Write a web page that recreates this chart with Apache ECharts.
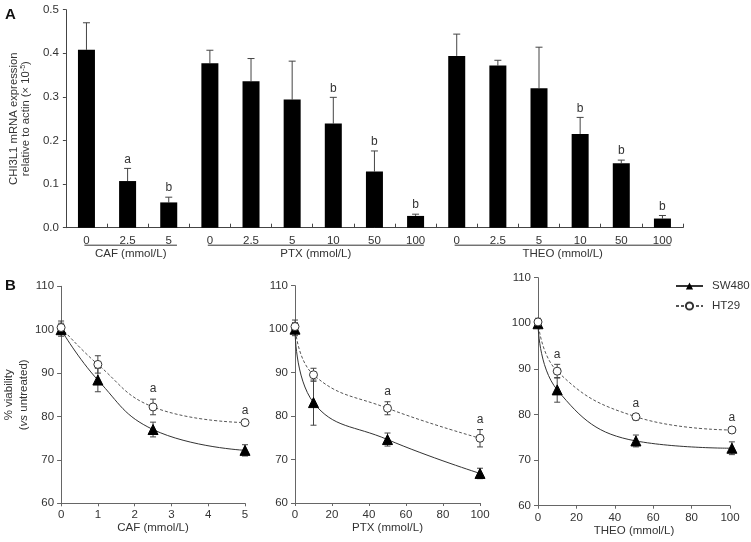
<!DOCTYPE html>
<html><head><meta charset="utf-8">
<script src="https://cdn.jsdelivr.net/npm/echarts@6/dist/echarts.min.js"></script>
<style>html,body{margin:0;padding:0;background:#fff}#c{width:751px;height:542px}</style>
</head><body><div id="c"></div>
<script>
// ---- Panel A data ----
const barCats = ['0','2.5','5','0','2.5','5','10','50','100','0','2.5','5','10','50','100'];
const barValues = [0.408,0.107,0.058,0.377,0.336,0.294,0.239,0.129,0.027,0.394,0.372,0.320,0.215,0.148,0.021];
const barErrors = [0.062,0.029,0.012,0.030,0.052,0.088,0.060,0.047,0.004,0.050,0.012,0.094,0.038,0.007,0.007];
const barSig = ['','a','b','','','','b','b','b','','','','b','b','b'];
const groupNames = ['CAF (mmol/L)','PTX (mmol/L)','THEO (mmol/L)'];
const groupStart = [0,3,9];
const groupEnd = [2,8,14];

// ---- Panel B data ----
const cafDose = [0,1,2.5,5];
const cafSW = [100,88.4,77.0,72.2];
const cafSWErr = [1.5,2.7,1.7,1.3];
const cafHT = [100.5,92.0,82.2,78.6];
const cafHTErr = [1.5,2.0,1.8,0.5];
const cafSig = ['','','a','a'];

const ptxDose = [0,10,50,100];
const ptxSW = [100,83.1,74.6,66.8];
const ptxSWErr = [1.5,5.2,1.5,1.2];
const ptxHT = [100.6,89.5,81.8,74.9];
const ptxHTErr = [1.5,1.5,1.5,2.0];
const ptxSig = ['','','a','a'];

const theoDose = [0,10,51,101];
const theoSW = [99.9,85.4,74.2,72.6];
const theoSWErr = [0.8,2.7,1.3,1.4];
const theoHT = [100.3,89.5,79.5,76.6];
const theoHTErr = [0.8,1.5,0.7,0.6];
const theoSig = ['','a','a','a'];

const FONT = 'Liberation Sans';
const FS = 11;
const TXT = '#333';
const AX = '#666';

const chart = echarts.init(document.getElementById('c'), null, {renderer:'canvas'});

function zip(xs, ys){ return xs.map((x,i)=>[x, ys[i]]); }
function errData(xs, ys, es, sig){ return xs.map((x,i)=>[x, ys[i], es[i], sig ? sig[i] : '']); }

function errorRender(twoSided, capW, labelGap){
  return function(params, api){
    const x = api.value(0), y = api.value(1), e = api.value(2);
    const sig = api.value(3);
    const top = api.coord([x, y + e]);
    const bot = twoSided ? api.coord([x, y - e]) : api.coord([x, y]);
    const ch = [
      {type:'line', shape:{x1:top[0], y1:top[1], x2:bot[0], y2:bot[1]}, style:{stroke:'#444', lineWidth:1}},
      {type:'line', shape:{x1:top[0]-capW, y1:top[1], x2:top[0]+capW, y2:top[1]}, style:{stroke:'#444', lineWidth:1}}
    ];
    if (twoSided) ch.push({type:'line', shape:{x1:bot[0]-capW, y1:bot[1], x2:bot[0]+capW, y2:bot[1]}, style:{stroke:'#444', lineWidth:1}});
    if (sig && sig !== '') ch.push({type:'text', style:{text:sig, x:top[0], y:top[1]-labelGap, align:'center', verticalAlign:'middle', font:'12px "'+FONT+'"', fill:TXT}});
    return {type:'group', children:ch};
  };
}

const groupData = groupNames.map((n,i)=>[groupStart[i], 0, groupEnd[i], n]);

function bottomX(idx, min, max, interval, name){
  return {type:'value', gridIndex:idx, min:min, max:max, interval:interval,
    name:name, nameLocation:'middle', nameGap:19,
    nameTextStyle:{fontFamily:FONT, fontSize:FS+0.5, color:TXT},
    axisLine:{show:true, onZero:false, lineStyle:{color:AX}},
    axisTick:{show:true, length:3, lineStyle:{color:AX}},
    axisLabel:{fontFamily:FONT, fontSize:FS+0.5, color:TXT, margin:6},
    splitLine:{show:false}};
}
function bottomY(idx, withName){
  const o = {type:'value', gridIndex:idx, min:60, max:110, interval:10,
    axisLine:{show:true, onZero:false, lineStyle:{color:AX}},
    axisTick:{show:true, length:4, lineStyle:{color:AX}},
    axisLabel:{fontFamily:FONT, fontSize:FS+0.5, color:TXT, margin:7},
    splitLine:{show:false}};
  if (withName){
    o.name = '% viability\n({i|vs} untreated)';
    o.nameLocation = 'middle';
    o.nameGap = 27;
    o.nameTextStyle = {fontFamily:FONT, fontSize:FS+0.5, color:TXT, lineHeight:15,
      rich:{i:{fontFamily:FONT, fontSize:FS+0.5, color:TXT, fontStyle:'italic'}}};
  }
  return o;
}

function panelSeries(idx, dose, sw, swE, ht, htE, sig){
  return [
    {type:'custom', xAxisIndex:idx, yAxisIndex:idx, renderItem:errorRender(true,3,10), data:errData(dose, sw, swE, null), z:2, silent:true},
    {type:'custom', xAxisIndex:idx, yAxisIndex:idx, renderItem:errorRender(true,3,10), data:errData(dose, ht, htE, sig), z:2, silent:true},
    {name:'SW480', type:'line', xAxisIndex:idx, yAxisIndex:idx, data:zip(dose, sw), smooth:0.45,
      symbol:'triangle', symbolSize:10, clip:false, z:3,
      lineStyle:{color:'#333', width:1}, itemStyle:{color:'#000', borderColor:'#000'}},
    {name:'HT29', type:'line', xAxisIndex:idx, yAxisIndex:idx, data:zip(dose, ht), smooth:0.45,
      symbol:'circle', symbolSize:8, clip:false, z:3,
      lineStyle:{color:'#555', width:1, type:[3,2]}, itemStyle:{color:'#fff', borderColor:'#333', borderWidth:1}}
  ];
}

const option = {
  animation:false,
  backgroundColor:'#fff',
  textStyle:{fontFamily:FONT},
  grid:[
    {left:62, top:9.7, width:621, height:218},
    {left:57, top:286.3, width:188, height:217},
    {left:295, top:285.7, width:185, height:217.3},
    {left:538, top:277.7, width:192, height:228}
  ],
  legend:{
    data:['SW480','HT29'], orient:'vertical', left:675, top:280, padding:0,
    itemWidth:27, itemHeight:9, itemGap:8,
    textStyle:{fontFamily:FONT, fontSize:FS+0.5, color:TXT, padding:[0,0,0,4]}
  },
  graphic:[
    {type:'text', left:5, top:7, style:{text:'A', font:'bold 15px "'+FONT+'"', fill:'#111'}},
    {type:'text', left:5, top:278, style:{text:'B', font:'bold 15px "'+FONT+'"', fill:'#111'}}
  ],
  xAxis:[
    {type:'category', gridIndex:0, data:barCats,
      axisLine:{show:true, lineStyle:{color:'#444'}},
      axisTick:{show:true, inside:true, length:4, alignWithLabel:false, lineStyle:{color:'#444'}},
      axisLabel:{fontFamily:FONT, fontSize:FS+0.5, color:TXT, margin:7, interval:0}},
    bottomX(1, 0, 5, 1, 'CAF (mmol/L)'),
    bottomX(2, 0, 100, 20, 'PTX (mmol/L)'),
    bottomX(3, 0, 100, 20, 'THEO (mmol/L)')
  ],
  yAxis:[
    {type:'value', gridIndex:0, min:0, max:0.5, interval:0.1,
      name:'CHI3L1 mRNA expression\nrelative to actin (× 10{s|-5})',
      nameLocation:'middle', nameGap:32,
      nameTextStyle:{fontFamily:FONT, fontSize:FS+0.3, color:TXT, lineHeight:12,
        rich:{s:{fontFamily:FONT, fontSize:7, color:TXT, verticalAlign:'top', lineHeight:12, padding:[0,0,5,0]}}},
      axisLine:{show:true, lineStyle:{color:'#444'}},
      axisTick:{show:true, length:3, lineStyle:{color:'#444'}},
      axisLabel:{fontFamily:FONT, fontSize:FS+0.5, color:TXT, margin:7, formatter:v=>v.toFixed(1)},
      splitLine:{show:false}},
    bottomY(1, true), bottomY(2, false), bottomY(3, false)
  ],
  series:[
    {type:'bar', xAxisIndex:0, yAxisIndex:0, data:barValues, barWidth:17,
      itemStyle:{color:'#000'}, z:2, silent:true},
    {type:'custom', xAxisIndex:0, yAxisIndex:0, renderItem:errorRender(false,3.5,9),
      data:barValues.map((v,i)=>[i, v, barErrors[i], barSig[i]]), z:1, silent:true},
    {type:'custom', xAxisIndex:0, yAxisIndex:0, silent:true, clip:false,
      data:groupData,
      renderItem:function(params, api){
        const p0 = api.coord([api.value(0), 0]);
        const p1 = api.coord([api.value(2), 0]);
        const bw = api.size([1,0])[0];
        const x0 = p0[0] - bw*0.05, x1 = p1[0] + bw*0.2;
        const y = p0[1] + 17.5;
        return {type:'group', children:[
          {type:'line', shape:{x1:x0, y1:y, x2:x1, y2:y}, style:{stroke:'#333', lineWidth:1}},
          {type:'text', style:{text:api.value(3), x:(x0+x1)/2, y:y+9, align:'center', verticalAlign:'middle', font:(FS+0.5)+'px "'+FONT+'"', fill:TXT}}
        ]};
      }},
    ...panelSeries(1, cafDose, cafSW, cafSWErr, cafHT, cafHTErr, cafSig),
    ...panelSeries(2, ptxDose, ptxSW, ptxSWErr, ptxHT, ptxHTErr, ptxSig),
    ...panelSeries(3, theoDose, theoSW, theoSWErr, theoHT, theoHTErr, theoSig)
  ]
};
chart.setOption(option);
</script></body></html>
